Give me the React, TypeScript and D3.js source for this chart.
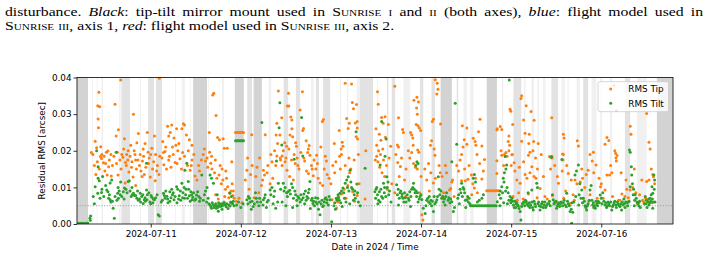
import React, { useEffect, useRef } from "react";
import * as d3 from "d3";

// hours since 2024-07-10 00:00 UTC, residual RMS in arcsec
const TIP_POINTS: [number, number][] = [
  [8.2,.0195],[8.6,.0190],[9.2,.0226],[9.6,.0208],[10.2,.0360],[9.9,.0323],[10.4,.0320],[10.0,.0287],[10.1,.0263],[10.7,.0211],[10.9,.0179],[12.2,.0196],[12.6,.0199],[13.4,.0190],[10.6,.0184],[12.8,.0156],[12.4,.0134],[13.5,.0131],[11.4,.0167],[9.0,.0160],[11.8,.0145],[9.4,.0135],
  [14.5,.0327],[16.0,.0393],[15.4,.0257],[14.8,.0240],[15.1,.0196],[17.0,.0233],[16.3,.0190],[17.6,.0190],[17.9,.0175],[17.3,.0168],[19.4,.0300],[18.5,.0185],[19.8,.0190],[20.0,.0175],
  [14.9,.0165],[15.3,.0134],[16.1,.0150],[16.6,.0182],[17.2,.0112],[17.5,.0160],[18.2,.0142],[18.9,.0155],[19.3,.0128],[19.6,.0200],[18.7,.0215],[20.0,.0105],
  [20.7,.0247],[20.3,.0222],[23.1,.0250],[22.5,.0220],[22.0,.0205],[23.3,.0196],[24.3,.0207],[23.6,.0180],[25.0,.0240],[25.3,.0190],
  [20.6,.0175],[21.0,.0160],[21.4,.0145],[21.8,.0172],[22.3,.0135],[22.7,.0155],[23.4,.0165],[23.9,.0128],[24.5,.0150],[25.2,.0118],[25.8,.0160],[26.2,.0135],[26.4,.0185],
  [26.3,.0398],[28.5,.0267],[29.6,.0270],[29.2,.0250],[28.8,.0240],[30.2,.0235],[30.9,.0260],[32.7,.0274],[33.0,.0270],[32.3,.0260],[33.5,.0243],[34.3,.0230],[35.0,.0215],[30.7,.0215],[27.4,.0195],[27.8,.0198],
  [27.0,.0180],[27.5,.0162],[28.0,.0210],[28.8,.0175],[29.4,.0155],[30.0,.0190],[30.5,.0168],[31.2,.0200],[31.8,.0178],[32.2,.0150],[33.0,.0185],[33.8,.0160],[34.5,.0147],[35.0,.0175],[35.8,.0131],[36.3,.0120],[36.8,.0160],
  [39.6,.0250],[40.5,.0352],[40.8,.0357],[41.4,.0296],[41.8,.0236],[42.3,.0230],[43.3,.0233],[43.6,.0207],[44.4,.0207],[45.6,.0170],[39.7,.0196],[40.2,.0185],
  [38.0,.0190],[38.6,.0172],[39.2,.0155],[40.0,.0166],[41.0,.0140],[41.6,.0125],[42.2,.0134],[42.8,.0110],[43.2,.0120],[43.9,.0095],[44.5,.0102],[45.0,.0085],[45.4,.0090],[45.9,.0078],[46.2,.0070],[44.0,.0145],[42.5,.0160],[42.0,.0068],[43.5,.0060],[44.8,.0072],[45.3,.0058],
  [46.6,.0250],[46.9,.0250],[47.2,.0250],[47.5,.0250],[47.8,.0250],[48.1,.0250],[48.4,.0250],[48.7,.0250],[46.8,.0062],[47.5,.0070],[48.3,.0058],
  [50.9,.0244],[54.5,.0244],[49.6,.0147],[51.0,.0160],[52.0,.0130],[53.0,.0180],[54.0,.0147],[54.3,.0134],[55.8,.0110],[55.2,.0160],[50.2,.0095],[52.8,.0085],[53.5,.0105],[56.5,.0125],[51.5,.0072],[49.8,.0180],[56.0,.0190],
  [58.0,.0363],[57.6,.0275],[57.4,.0243],[57.8,.0220],[57.6,.0186],[57.0,.0200],[57.3,.0160],
  [60.7,.0357],[64.4,.0361],[63.8,.0311],[60.4,.0322],[60.8,.0322],[58.9,.0290],[61.3,.0292],[61.6,.0284],[64.7,.0261],[64.5,.0255],[61.6,.0260],[61.1,.0243],[61.8,.0238],[58.4,.0243],[65.4,.0227],[62.6,.0222],[59.7,.0222],[60.2,.0212],[66.2,.0214],[66.0,.0205],[62.8,.0212],[60.8,.0205],[66.4,.0188],[59.0,.0186],[58.6,.0175],[68.2,.0188],[67.5,.0175],[69.3,.0210],[69.7,.0280],[70.0,.0285],[70.5,.0185],[70.8,.0172],
  [58.5,.0180],[59.0,.0160],[59.8,.0170],[60.3,.0147],[61.0,.0130],[62.5,.0165],[63.0,.0180],[63.5,.0150],[64.0,.0195],[65.0,.0172],[65.5,.0145],[66.0,.0138],[66.8,.0160],[67.3,.0132],[68.0,.0150],[68.6,.0125],[69.1,.0112],[69.8,.0105],[62.0,.0120],
  [72.9,.0220],[74.2,.0255],[75.0,.0223],[74.7,.0205],[74.3,.0185],[75.8,.0384],[77.5,.0382],[77.7,.0332],[78.8,.0326],[78.0,.0315],[76.2,.0288],[76.9,.0275],[78.5,.0276],[79.0,.0280],[76.6,.0261],[79.0,.0262],[78.7,.0238],[79.1,.0232],[81.3,.0200],[75.2,.0212],[74.8,.0190],
  [73.5,.0044],[73.8,.0060],[72.3,.0066],[74.0,.0075],[74.8,.0082],[75.5,.0095],[76.0,.0070],[76.5,.0105],[77.0,.0140],[77.3,.0150],[77.8,.0088],[78.3,.0062],[79.0,.0078],[79.5,.0110],[81.1,.0068],[72.0,.0110],[71.5,.0125],[73.0,.0140],[75.8,.0160],[78.2,.0175],
  [84.4,.0361],[84.6,.0327],[85.5,.0291],[86.4,.0293],[85.9,.0275],[87.3,.0272],[84.0,.0260],[84.9,.0245],[85.3,.0229],[86.5,.0237],[87.9,.0212],[84.2,.0215],[84.7,.0200],[85.8,.0205],
  [89.0,.0376],[90.0,.0290],[91.1,.0258],[91.3,.0250],[89.7,.0216],[90.0,.0210],
  [84.2,.0185],[84.5,.0170],[85.0,.0155],[85.6,.0140],[86.0,.0175],[86.3,.0130],[89.8,.0168],[90.5,.0157],[90.2,.0130],[91.6,.0120],[88.2,.0110],[87.0,.0095],[89.0,.0085],[91.9,.0075],
  [93.5,.0243],[93.8,.0235],[93.2,.0250],[95.1,.0202],[95.4,.0196],[94.1,.0338],[94.9,.0346],[95.3,.0333],[94.8,.0317],[95.0,.0300],[94.7,.0272],[95.2,.0268],[95.5,.0262],[95.9,.0255],[99.3,.0286],[99.0,.0280],[98.8,.0227],[98.5,.0215],[99.5,.0205],[99.7,.0188],[99.8,.0394],[100.3,.0384],[100.5,.0368],[100.2,.0355],[101.2,.0273],
  [93.0,.0180],[93.5,.0195],[94.0,.0165],[94.5,.0155],[95.0,.0150],[95.6,.0085],[96.2,.0025],[96.5,.0011],[97.5,.0120],[98.6,.0140],[99.3,.0112],[99.8,.0125],[101.1,.0140],[101.6,.0130],[103.6,.0093],[103.9,.0097],[104.2,.0115],[104.4,.0120],[102.5,.0160],[102.0,.0085],
  [107.0,.0268],[108.2,.0262],[107.5,.0230],[108.2,.0218],[107.2,.0210],[106.8,.0190],[109.9,.0234],[110.4,.0225],[110.6,.0215],[111.3,.0252],[111.7,.0286],[112.2,.0213],[112.9,.0176],[116.2,.0257],
  [106.8,.0118],[107.8,.0118],[108.5,.0122],[109.4,.0134],[109.8,.0110],[110.2,.0098],[110.5,.0125],[111.0,.0085],[112.2,.0123],[105.5,.0160],[106.0,.0145],
  [113.5,.0091],[113.9,.0091],[114.3,.0091],[114.7,.0091],[115.1,.0091],[115.5,.0091],[115.9,.0091],[116.3,.0091],[116.7,.0091],
  [122.8,.0350],[122.6,.0343],[124.0,.0323],[119.7,.0313],[119.9,.0308],[125.3,.0307],[123.3,.0284],[126.1,.0283],[117.1,.0266],[116.3,.0260],[117.5,.0258],[120.4,.0272],[123.7,.0248],[124.8,.0245],[119.4,.0240],[119.2,.0225],[119.6,.0215],[122.8,.0226],[124.7,.0220],[126.0,.0225],[127.2,.0220],[125.0,.0196],[124.6,.0188],[117.5,.0188],[118.2,.0190],[120.2,.0189],[116.2,.0173],[126.5,.0180],[128.0,.0190],
  [116.2,.0138],[117.3,.0200],[118.6,.0195],[118.9,.0185],[119.4,.0200],[120.3,.0190],[120.8,.0167],[120.0,.0160],[123.3,.0170],[123.7,.0135],[124.2,.0125],[125.5,.0156],[125.8,.0200],[126.1,.0130],[126.6,.0125],[127.7,.0097],[122.4,.0111],[122.0,.0085],[121.6,.0065],[123.2,.0068],[124.6,.0082],[129.0,.0075],[128.4,.0060],
  [130.8,.0290],[130.2,.0184],[130.9,.0180],[131.6,.0160],[132.6,.0111],[133.9,.0245],[134.1,.0235],[133.7,.0191],[133.8,.0175],[133.6,.0145],[133.9,.0190],[135.2,.0138],[135.7,.0056],[134.5,.0090],[131.0,.0078],[132.0,.0062],
  [137.6,.0227],[137.9,.0213],[137.0,.0120],[137.5,.0110],[138.4,.0115],[139.0,.0125],[140.0,.0135],[140.5,.0147],[141.0,.0190],[141.9,.0196],[141.6,.0172],[142.6,.0161],[143.4,.0125],[143.8,.0102],[145.0,.0093],[139.2,.0070],[141.0,.0080],[136.5,.0080],
  [145.5,.0236],[145.0,.0218],[146.0,.0228],[145.5,.0134],[146.2,.0134],[146.8,.0140],[147.8,.0193],[147.9,.0180],[148.0,.0172],[147.6,.0200],[148.2,.0187],[147.4,.0378],[148.0,.0310],
  [151.7,.0267],[151.9,.0245],[151.7,.0093],[150.8,.0095],[150.3,.0075],[152.4,.0100],[153.7,.0056],[154.2,.0080],[155.0,.0065],[156.1,.0302],[156.7,.0223],[157.0,.0205],[156.1,.0116],[156.7,.0120],[157.9,.0129],[157.7,.0135],[155.8,.0070],[156.4,.0062],[149.0,.0065],[149.5,.0082],[144.5,.0070],[143.0,.0060],
  [9.8,.0170],[10.3,.0150],[11.0,.0190],[11.6,.0185],[12.0,.0165],[13.0,.0175],[13.8,.0160],[14.2,.0185],[15.8,.0175],[16.8,.0205],[18.0,.0200],[19.0,.0170],[20.2,.0150],[21.2,.0190],[21.7,.0130],[22.1,.0185],[24.0,.0190],[24.8,.0170],[25.6,.0145],[27.2,.0225],[28.2,.0150],[29.0,.0185],[29.8,.0210],[31.0,.0165],[31.5,.0220],[32.5,.0195],[34.0,.0200],[34.8,.0160],[35.5,.0190],[37.0,.0145],[37.5,.0175],[38.3,.0205],[39.0,.0180],[40.3,.0150],[41.2,.0175],[43.0,.0150],[44.2,.0125],[45.7,.0110],
  [49.2,.0120],[50.6,.0135],[52.3,.0155],[53.8,.0120],[55.0,.0140],[56.3,.0170],[59.3,.0200],[60.0,.0180],[61.5,.0175],[62.2,.0190],[63.2,.0160],[64.8,.0180],[65.8,.0195],[67.0,.0150],[68.4,.0165],[70.2,.0150],[71.0,.0135],[72.5,.0160],[73.3,.0170],[74.5,.0150],[76.8,.0180],[79.3,.0190],
  [83.8,.0175],[85.2,.0190],[86.8,.0160],[87.5,.0180],[89.3,.0190],[90.8,.0180],[92.0,.0150],[92.6,.0200],[93.9,.0215],[96.0,.0130],[97.0,.0150],[98.0,.0165],[100.8,.0160],[102.8,.0140],[106.4,.0175],[107.6,.0150],[108.8,.0160],[110.9,.0190],[111.6,.0165],[112.6,.0145],
  [118.0,.0160],[121.0,.0145],[121.5,.0120],[122.2,.0155],[125.0,.0140],[127.0,.0150],[128.6,.0130],[130.5,.0150],[132.3,.0130],[134.8,.0160],[136.0,.0120],[138.8,.0150],[139.6,.0100],[142.0,.0140],[144.0,.0110],[146.5,.0160],[149.3,.0140],[150.6,.0120],[152.8,.0150],[154.8,.0120],[157.3,.0150],[158.2,.0110],
  [120.5,.0075],[123.9,.0060],[126.9,.0072],[129.6,.0068],[131.8,.0058],[134.0,.0070],[136.8,.0065],[140.7,.0062],[142.9,.0070],[147.0,.0075],[148.6,.0065],[151.2,.0072],[153.2,.0085],[155.3,.0060],[157.5,.0058],[41.3,.0080],[43.7,.0075],[46.0,.0090],[98.2,.0090],[102.2,.0070],[104.8,.0075],[109.5,.0080],
];

const TILT_POINTS: [number, number][] = [
  [4.8,.0002],[5.4,.0002],[6.0,.0002],[6.6,.0002],[7.2,.0003],[7.8,.0016],[8.0,.0022],[7.9,.0010],
  [9.0,.0055],[8.7,.0075],[9.2,.0102],[10.0,.0125],[10.3,.0118],[10.0,.0156],[9.9,.0084],[10.9,.0086],[10.5,.0070],[12.3,.0093],[12.6,.0088],[13.2,.0066],[13.4,.0060],[13.6,.0120],[13.2,.0112],[14.0,.0043],[14.3,.0016],[13.8,.0062],[15.2,.0084],[15.3,.0100],[15.6,.0090],[15.4,.0070],[16.7,.0088],[17.0,.0098],[17.4,.0095],[18.0,.0116],[18.3,.0118],[19.4,.0084],[19.1,.0080],[18.8,.0075],[9.6,.0200],[14.8,.0196],
  [11.0,.0095],[11.5,.0075],[12.0,.0105],[12.8,.0070],[13.0,.0080],[14.5,.0075],[15.0,.0065],[15.9,.0080],[16.3,.0075],[16.9,.0068],[17.7,.0085],[18.5,.0090],[19.0,.0100],[19.7,.0078],[11.2,.0130],[16.0,.0115],
  [20.3,.0070],[21.0,.0068],[20.7,.0065],[22.0,.0056],[22.3,.0066],[22.6,.0062],[23.1,.0080],[23.8,.0060],[24.3,.0073],[24.7,.0068],[25.0,.0066],[22.9,.0093],[21.2,.0084],[22.9,.0166],[26.0,.0025],[26.3,.0022],[27.4,.0084],[27.8,.0070],[28.3,.0076],[29.1,.0088],[29.1,.0062],[29.8,.0080],[30.2,.0066],[30.9,.0102],[31.2,.0095],[31.6,.0077],[32.3,.0111],[32.6,.0085],[33.0,.0070],[33.4,.0095],[34.0,.0116],[34.3,.0077],[34.7,.0088],[35.0,.0066],[33.1,.0147],[33.6,.0166],[35.4,.0085],[36.2,.0079],[36.8,.0075],[37.2,.0070],[37.6,.0134],[35.7,.0065],[21.6,.0075],[24.0,.0055],[26.8,.0060],[28.6,.0058],[31.0,.0058],[32.0,.0065],
  [20.0,.0078],[20.5,.0090],[21.3,.0060],[21.9,.0080],[22.5,.0072],[23.0,.0066],[23.5,.0085],[24.1,.0078],[24.6,.0058],[25.3,.0072],[25.7,.0080],[27.1,.0065],[27.6,.0078],[28.0,.0090],[28.5,.0068],[29.4,.0072],[29.6,.0095],[30.0,.0085],[30.5,.0075],[31.4,.0068],[31.9,.0090],[32.5,.0072],[32.9,.0100],[33.3,.0080],[33.8,.0070],[34.1,.0095],[34.5,.0062],[34.9,.0080],[35.2,.0073],[36.0,.0068],[36.5,.0088],[37.0,.0062],
  [38.6,.0090],[39.0,.0100],[39.8,.0052],[40.2,.0043],[40.6,.0052],[41.1,.0050],[41.5,.0043],[41.9,.0046],[42.3,.0052],[42.8,.0055],[43.3,.0056],[43.8,.0052],[44.3,.0055],[45.1,.0049],[45.6,.0058],[46.0,.0062],[39.8,.0134],[40.2,.0125],[40.7,.0111],[41.7,.0080],[45.1,.0084],[45.5,.0075],[42.0,.0035],[43.0,.0040],[44.6,.0042],[38.0,.0065],[39.3,.0070],
  [38.3,.0080],[38.9,.0060],[39.5,.0055],[40.0,.0048],[40.4,.0058],[40.9,.0045],[41.3,.0055],[41.7,.0050],[42.1,.0058],[42.6,.0048],[43.1,.0050],[43.6,.0058],[44.1,.0047],[44.8,.0052],[45.3,.0060],[45.8,.0055],[46.2,.0050],
  [46.6,.0227],[46.9,.0227],[47.2,.0227],[47.5,.0227],[47.8,.0227],[48.1,.0227],[48.4,.0227],[48.7,.0227],[46.9,.0052],[47.4,.0060],[48.0,.0045],[48.6,.0055],
  [49.6,.0066],[50.0,.0075],[50.5,.0060],[51.3,.0048],[51.9,.0085],[52.4,.0060],[53.0,.0070],[53.6,.0277],[54.0,.0066],[54.5,.0080],[55.0,.0060],[55.8,.0093],[56.3,.0100],[56.8,.0075],[57.3,.0043],[57.8,.0060],[58.0,.0111],[58.4,.0331],[58.2,.0263],[58.9,.0216],[57.5,.0172],[50.8,.0040],[52.8,.0050],[54.8,.0045],
  [49.9,.0055],[50.3,.0070],[51.0,.0062],[51.6,.0055],[52.1,.0070],[53.3,.0060],[53.9,.0052],[54.3,.0072],[55.3,.0065],[56.0,.0080],[56.6,.0055],[57.0,.0090],
  [59.3,.0111],[59.8,.0100],[60.2,.0085],[60.6,.0088],[61.0,.0092],[61.5,.0110],[62.0,.0070],[62.2,.0177],[62.6,.0080],[63.2,.0075],[63.8,.0060],[64.2,.0066],[64.2,.0291],[64.5,.0186],[64.8,.0082],[65.2,.0090],[65.6,.0075],[66.0,.0085],[66.4,.0116],[66.8,.0065],[67.2,.0056],[67.6,.0050],[68.0,.0060],[68.5,.0070],[69.1,.0025],[69.4,.0055],[69.8,.0048],[70.2,.0060],[70.6,.0072],[71.0,.0066],[71.8,.0066],[72.2,.0006],[59.0,.0060],[60.0,.0050],[61.8,.0045],[63.0,.0050],[65.0,.0055],[66.5,.0042],[68.7,.0040],[71.3,.0052],
  [58.6,.0095],[59.5,.0090],[60.4,.0075],[61.2,.0082],[61.8,.0100],[62.4,.0090],[62.9,.0065],[63.5,.0070],[64.0,.0080],[64.6,.0072],[65.4,.0065],[65.9,.0070],[66.2,.0095],[67.0,.0070],[67.4,.0062],[67.9,.0072],[68.3,.0055],[68.9,.0060],[69.6,.0065],[70.0,.0050],[70.4,.0068],[70.9,.0058],[71.5,.0075],
  [72.8,.0050],[73.2,.0040],[73.6,.0065],[74.0,.0072],[74.4,.0084],[74.8,.0090],[75.2,.0098],[75.8,.0111],[76.2,.0120],[76.6,.0129],[77.1,.0147],[77.3,.0115],[77.8,.0095],[78.2,.0080],[78.5,.0070],[78.9,.0109],[79.3,.0060],[78.7,.0252],[81.1,.0152],[76.0,.0060],[77.0,.0055],[75.0,.0048],[79.8,.0050],[74.6,.0058],
  [73.0,.0058],[73.4,.0070],[73.9,.0080],[74.2,.0065],[75.4,.0085],[75.6,.0070],[76.4,.0100],[76.8,.0090],[77.5,.0100],[78.0,.0065],[78.4,.0090],[79.1,.0085],
  [83.7,.0088],[84.0,.0095],[84.4,.0080],[84.7,.0065],[85.1,.0060],[85.5,.0075],[86.0,.0111],[86.3,.0100],[86.9,.0129],[87.2,.0115],[87.6,.0090],[85.1,.0161],[85.5,.0280],[86.7,.0232],[86.4,.0185],[89.5,.0107],[89.9,.0095],[90.4,.0085],[90.9,.0075],[91.2,.0070],[91.6,.0085],[92.0,.0060],[92.6,.0070],[93.0,.0088],[93.5,.0095],[94.0,.0111],[94.4,.0085],[94.8,.0075],[95.2,.0060],[95.7,.0075],[96.2,.0067],[96.6,.0043],[97.1,.0029],[97.5,.0065],[98.0,.0060],[98.4,.0056],[98.8,.0050],[99.3,.0034],[99.7,.0055],[100.2,.0066],[100.4,.0075],[100.6,.0129],[94.9,.0170],[95.2,.0165],[94.6,.0160],[84.5,.0055],[88.0,.0060],[90.0,.0052],[93.2,.0048],
  [83.9,.0070],[84.2,.0100],[84.9,.0088],[85.3,.0095],[85.8,.0070],[86.2,.0085],[86.6,.0075],[87.0,.0100],[87.4,.0080],[89.7,.0080],[90.2,.0070],[90.6,.0090],[91.0,.0082],[91.4,.0060],[91.8,.0072],[92.3,.0080],[92.8,.0065],[93.3,.0075],[93.8,.0100],[94.2,.0095],[94.7,.0090],[95.0,.0085],[95.5,.0068],[96.0,.0080],[97.3,.0050],[97.8,.0070],[98.2,.0075],[98.6,.0065],[99.0,.0062],[99.5,.0075],[100.0,.0060],[100.8,.0095],
  [101.0,.0080],[101.5,.0070],[102.0,.0060],[102.6,.0075],[103.2,.0065],[103.7,.0058],[104.2,.0061],[104.6,.0034],[104.9,.0045],[104.2,.0170],[105.1,.0330],[105.5,.0218],[106.0,.0080],[106.4,.0095],[106.8,.0111],[107.2,.0100],[107.6,.0085],[108.2,.0066],[108.6,.0060],[109.0,.0055],[109.9,.0125],[110.2,.0135],[110.5,.0115],[111.0,.0060],[111.5,.0065],[112.2,.0070],[112.6,.0080],[102.4,.0052],[106.2,.0055],[107.9,.0045],
  [101.3,.0090],[101.8,.0075],[102.2,.0068],[102.8,.0085],[103.4,.0072],[103.9,.0068],[105.8,.0070],[106.6,.0085],[107.0,.0075],[107.4,.0095],[107.8,.0065],[108.4,.0075],[108.8,.0070],
  [109.2,.0050],[109.6,.0050],[110.0,.0050],[110.4,.0050],[110.8,.0050],[111.2,.0050],[111.6,.0050],[112.0,.0050],[112.4,.0050],[112.8,.0050],[113.2,.0050],[113.6,.0050],[114.0,.0050],[114.4,.0050],[114.8,.0050],[115.2,.0050],[115.6,.0050],[116.0,.0050],
  [116.3,.0061],[116.8,.0080],[117.1,.0090],[117.5,.0102],[117.9,.0125],[118.2,.0140],[118.8,.0161],[118.4,.0184],[118.6,.0150],[118.9,.0100],[119.2,.0085],[119.7,.0075],[119.5,.0393],[120.0,.0065],[120.6,.0052],[120.2,.0070],[121.0,.0062],[121.5,.0058],[121.9,.0049],[122.4,.0034],[122.6,.0011],[123.0,.0055],[123.4,.0060],[123.8,.0065],[124.2,.0055],[124.6,.0049],[125.0,.0045],[125.5,.0060],[125.9,.0038],[126.3,.0055],[126.8,.0111],[127.0,.0100],[127.3,.0060],[127.7,.0038],[128.1,.0055],[128.5,.0045],[129.0,.0060],[129.4,.0050],[125.5,.0093],[124.5,.0085],[117.0,.0050],[118.0,.0058],[119.0,.0055],[121.2,.0045],
  [117.2,.0070],[117.7,.0085],[118.1,.0115],[118.5,.0090],[119.4,.0065],[119.9,.0058],[120.4,.0062],[120.8,.0045],[121.3,.0055],[121.7,.0052],[122.1,.0042],[122.8,.0048],[123.2,.0058],[123.6,.0050],[124.0,.0062],[124.4,.0052],[124.8,.0058],[125.2,.0052],[125.7,.0045],[126.1,.0062],[126.5,.0048],[127.1,.0055],[127.5,.0050],[127.9,.0048],[128.3,.0060],[128.8,.0052],[129.2,.0045],[129.7,.0055],[130.2,.0062],[130.4,.0050],[131.4,.0055],[131.9,.0062],[132.3,.0050],[132.7,.0058],
  [130.6,.0182],[130.8,.0184],[131.0,.0080],[131.2,.0066],[131.6,.0060],[132.1,.0043],[132.5,.0055],[132.9,.0048],[133.5,.0176],[133.3,.0060],[133.7,.0050],[134.1,.0065],[134.7,.0047],[134.8,.0084],[135.2,.0055],[135.7,.0034],[136.0,.0040],[136.4,.0032],[136.1,.0002],[137.0,.0134],[137.4,.0145],[137.9,.0161],[138.3,.0110],[138.8,.0093],[139.2,.0070],[139.7,.0050],[140.1,.0038],[140.5,.0055],[140.8,.0065],[141.0,.0093],[141.3,.0105],[141.7,.0052],[142.4,.0043],[142.8,.0055],[143.2,.0062],[143.7,.0079],[144.0,.0070],[144.4,.0085],[145.0,.0052],[145.4,.0045],[130.0,.0055],[138.0,.0052],[142.0,.0045],
  [133.1,.0055],[133.9,.0058],[134.4,.0052],[135.0,.0062],[135.5,.0050],[136.2,.0058],[136.7,.0060],[137.2,.0075],[138.1,.0080],[138.6,.0070],[139.0,.0058],[139.5,.0062],[139.9,.0045],[140.3,.0050],[141.5,.0065],[141.9,.0058],[142.2,.0050],[142.6,.0062],[143.0,.0050],[143.5,.0058],[144.2,.0055],[144.7,.0062],[145.2,.0058],[145.6,.0050],[146.0,.0055],[146.5,.0060],[147.0,.0048],[147.4,.0058],[147.9,.0052],[148.3,.0060],[148.8,.0050],[149.2,.0055],[149.6,.0060],
  [145.8,.0060],[146.2,.0050],[146.8,.0038],[147.2,.0052],[147.6,.0062],[148.0,.0045],[148.5,.0055],[149.0,.0048],[149.4,.0038],[149.8,.0052],[150.3,.0045],[150.8,.0058],[151.7,.0102],[152.1,.0134],[152.0,.0156],[151.7,.0196],[151.5,.0202],[152.3,.0110],[152.6,.0095],[153.0,.0080],[153.3,.0070],[153.7,.0056],[154.0,.0050],[154.4,.0045],[155.7,.0075],[156.0,.0065],[156.4,.0060],[156.7,.0052],[157.0,.0070],[157.3,.0080],[157.7,.0084],[158.0,.0134],[158.2,.0120],[157.5,.0102],[158.1,.0095],[157.9,.0060],[157.7,.0043],[156.2,.0045],[155.5,.0055],[151.2,.0060],[150.0,.0068],[152.8,.0050],
  [150.1,.0055],[150.5,.0060],[151.0,.0050],[151.4,.0062],[152.5,.0080],[152.9,.0065],[153.5,.0060],[153.9,.0058],[154.2,.0062],[155.9,.0055],[156.6,.0068],[156.9,.0058],[157.2,.0062],[157.6,.0068],[158.3,.0060],
];

// shaded intervals: start hour, end hour, shade (0 light, 1 medium, 2 dark)
const GAPS: [number, number, number][] = [
  [4.4,7.3,2],[8.4,8.6,0],[9.6,9.8,0],[10.9,11.3,0],[15.6,16.0,0],[16.2,18.5,1],[21.1,21.4,0],[23.3,24.9,1],[25.4,27.0,1],[30.5,30.7,0],[32.3,33.1,0],[34.5,34.7,0],
  [35.3,39.0,2],[39.3,39.5,0],[43.0,43.5,0],[46.4,48.8,2],[49.7,51.0,1],[51.4,53.6,2],[55.4,56.1,0],[59.4,60.6,1],[62.7,63.8,1],[66.7,67.4,0],[68.0,68.8,1],[69.9,71.8,1],
  [74.4,74.7,0],[76.3,76.6,0],[78.9,79.7,0],[79.7,83.2,1],[84.3,84.5,0],[86.9,87.3,1],[88.2,89.1,1],[91.3,93.1,0],[95.7,96.6,1],[98.8,99.7,1],[101.2,104.2,2],[105.5,105.9,1],
  [107.3,108.2,0],[109.1,110.0,0],[113.5,116.2,2],[117.5,117.9,0],[120.6,122.7,1],[123.4,123.8,0],[125.4,126.1,0],[127.0,127.4,0],[128.5,129.1,0],[130.7,132.5,1],[133.4,134.3,0],
  [135.0,135.3,0],[137.4,138.3,0],[139.2,140.5,1],[141.4,142.7,0],[143.7,144.2,0],[146.3,146.9,0],[150.3,151.7,1],[153.5,156.1,0],[158.8,163.1,2],
];

const DAY_TICKS = ["2024-07-11", "2024-07-12", "2024-07-13", "2024-07-14", "2024-07-15", "2024-07-16"];
const RMS_TICKS = [0, 0.01, 0.02, 0.03, 0.04];
const TARGET_RMS = 0.005;
const SERIES_NAMES = ["RMS Tip", "RMS Tilt"];
const SERIES_COLORS = ["#ff7f0e", "#2ca02c"];

const T0 = Date.UTC(2024, 6, 10);
const at = (h: number) => new Date(T0 + h * 3600e3);

const L = 77, R = 673, T = 77.5, B = 224;
const x = d3.scaleUtc().domain([at(4.37), at(163.1)]).range([L, R]);
const y = d3.scaleLinear().domain([0, 0.04]).range([B, T]);

const SANS = "DejaVu Sans, sans-serif";
const SERIF = "Liberation Serif, Times New Roman, serif";
const shadeOpacity = [0.35, 0.65, 1];

// caption block is set wide; the first line is justified to the full width
const CAP_SX = 1.3;
const CAP_X = 5;
const CAP_WIDTH = 698;

export default function App() {
  const xAxisRef = useRef<SVGGElement>(null);
  const yAxisRef = useRef<SVGGElement>(null);
  const line1Ref = useRef<SVGTextElement>(null);

  useEffect(() => {
    const xa = d3.select(xAxisRef.current!);
    xa.call(
      d3.axisBottom(x)
        .tickValues(DAY_TICKS.map((d) => new Date(d + "T00:00:00Z")))
        .tickFormat((d) => d3.utcFormat("%Y-%m-%d")(d as Date))
        .tickSize(3.5)
        .tickPadding(3.3)
    );
    const ya = d3.select(yAxisRef.current!);
    ya.call(d3.axisLeft(y).tickValues(RMS_TICKS).tickFormat(d3.format(".2f")).tickSize(3.5).tickPadding(2));
    [xa, ya].forEach((g) => {
      g.select(".domain").remove();
      g.attr("font-family", SANS).attr("font-size", 8.8);
      g.selectAll("line").attr("stroke", "#000").attr("stroke-width", 0.8);
      g.selectAll("text").attr("fill", "#000");
    });

    const t = line1Ref.current!;
    const spaces = (t.textContent || "").split(" ").length - 1;
    const natural = t.getComputedTextLength();
    const extra = CAP_WIDTH / CAP_SX - natural;
    if (spaces > 0) t.setAttribute("word-spacing", String(extra / spaces));
  }, []);

  const sc = { fontVariant: "small-caps" } as React.CSSProperties;

  return (
    <svg width={705} height={258} style={{ position: "absolute", left: 0, top: 0, background: "#fff" }}>
      <g transform={`translate(${CAP_X},0) scale(${CAP_SX},1)`} fontFamily={SERIF} fontSize={12.1}>
        <text ref={line1Ref} x={0} y={16}>
          <tspan>disturbance. </tspan>
          <tspan fontStyle="italic">Black</tspan>
          <tspan>: tip-tilt mirror mount used in </tspan>
          <tspan style={sc}>Sunrise i</tspan>
          <tspan> and </tspan>
          <tspan style={sc}>ii</tspan>
          <tspan> (both axes), </tspan>
          <tspan fontStyle="italic">blue</tspan>
          <tspan>: flight model used in</tspan>
        </text>
        <text x={0} y={29.6}>
          <tspan style={sc}>Sunrise iii</tspan>
          <tspan>, axis 1, </tspan>
          <tspan fontStyle="italic">red</tspan>
          <tspan>: flight model used in </tspan>
          <tspan style={sc}>Sunrise iii</tspan>
          <tspan>, axis 2.</tspan>
        </text>
      </g>

      <defs>
        <clipPath id="plot">
          <rect x={L} y={T} width={R - L} height={B - T} />
        </clipPath>
      </defs>

      <g clipPath="url(#plot)">
        {GAPS.map(([a, b, s], i) => (
          <rect key={i} x={x(at(a))} y={T} width={Math.max(0.8, x(at(b)) - x(at(a)))} height={B - T}
            fill="#d3d3d3" fillOpacity={shadeOpacity[s]} />
        ))}
        <line x1={L} x2={R} y1={y(TARGET_RMS)} y2={y(TARGET_RMS)} stroke="#999" strokeWidth={1} strokeDasharray="1,1.7" />
        {[TIP_POINTS, TILT_POINTS].map((pts, k) => (
          <g key={k} fill={SERIES_COLORS[k]}>
            {pts.map(([h, v], i) => (
              <circle key={i} cx={x(at(h))} cy={y(v)} r={1.5} />
            ))}
          </g>
        ))}
      </g>

      <rect x={L} y={T} width={R - L} height={B - T} fill="none" stroke="#000" strokeWidth={0.8} />
      <g ref={xAxisRef} transform={`translate(0,${B})`} />
      <g ref={yAxisRef} transform={`translate(${L},0)`} />

      <text x={(L + R) / 2} y={250} textAnchor="middle" fontFamily={SANS} fontSize={8.8}>Date in 2024 / Time</text>
      <text transform={`translate(44.5,${(T + B) / 2}) rotate(-90)`} textAnchor="middle" fontFamily={SANS} fontSize={8.8}>
        Residual RMS [arcsec]
      </text>

      <g fontFamily={SANS} fontSize={8.8}>
        <rect x={598} y={81.7} width={70.5} height={30} rx={2} fill="#fff" fillOpacity={0.8} stroke="#ccc" strokeWidth={0.8} />
        {SERIES_NAMES.map((name, i) => (
          <g key={name} transform={`translate(0,${89 + i * 14.3})`}>
            <circle cx={610.7} cy={0} r={1.5} fill={SERIES_COLORS[i]} />
            <text x={628.3} y={3.2}>{name}</text>
          </g>
        ))}
      </g>
    </svg>
  );
}
